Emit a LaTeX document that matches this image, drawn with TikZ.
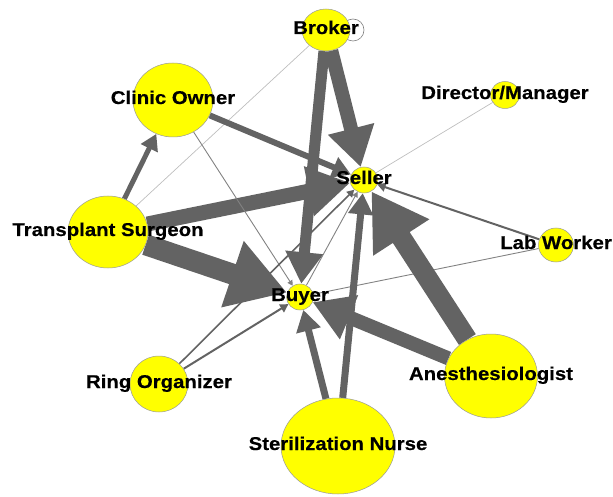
\documentclass[tikz,border=0pt]{standalone}
\usepackage{fontspec}
\setmainfont{Liberation Sans}
\newfontfamily\tagfont{Liberation Sans}[FakeStretch=1.1, BoldFeatures={FakeBold=0.4}]
\usetikzlibrary{shapes.geometric, arrows.meta}

\definecolor{tiegray}{RGB}{99,99,99}
\definecolor{thingray}{RGB}{130,130,130}
\definecolor{faintgray}{RGB}{190,190,190}
\definecolor{actoryellow}{RGB}{255,255,0}

\pgfdeclarelayer{edges}
\pgfsetlayers{edges,main}

\tikzset{
	actor/.style={ellipse, draw=black!40, line width=0.5pt, fill=actoryellow, inner sep=0pt},
	tag/.style={font=\tagfont\bfseries\fontsize{18.5}{18.5}\selectfont, inner sep=0pt, anchor=base},
	tie/.style={draw=tiegray, line width=#1pt, -{Triangle[length=3pt 2.6, width=3pt 3]}},
	faint/.style={draw=faintgray, line width=0.7pt},
	plainline/.style={draw=thingray, line width=0.9pt}
}

\begin{document}
\begin{tikzpicture}[x=1pt, y=-1pt]
	%\draw[help lines] (0,0) grid (613,497);
	\useasboundingbox (0,0) rectangle (613,497);

	% Knoten
	\node [actor, minimum width=48pt, minimum height=42pt] (broker) at (326,30) {};
	\node [actor, minimum width=28pt, minimum height=26pt] (seller) at (364,180) {};
	\node [actor, minimum width=27pt, minimum height=26pt] (buyer) at (300,297) {};
	\node [actor, minimum width=80pt, minimum height=74pt] (clinic) at (173,100) {};
	\node [actor, minimum width=80pt, minimum height=72pt] (surgeon) at (108,232) {};
	\node [actor, minimum width=29pt, minimum height=27pt] (director) at (505,95) {};
	\node [actor, minimum width=35pt, minimum height=34pt] (labworker) at (556,245) {};
	\node [actor, minimum width=58pt, minimum height=56pt] (organizer) at (159,384) {};
	\node [actor, minimum width=93pt, minimum height=84pt] (anesth) at (491,376) {};
	\node [actor, minimum width=114pt, minimum height=96pt] (nurse) at (338,446) {};

	\begin{pgfonlayer}{edges}
	\draw [draw=black!50, fill=white, line width=0.6pt] ([xshift=27pt]broker.center) circle [radius=11pt];	% Schleife
	\draw [tie=14] (broker) -- (seller);
	\draw [tie=11] (broker) -- (buyer);
	\draw [tie=15] (surgeon) -- (seller);
	\draw [tie=21] (surgeon) -- (buyer);
	\draw [tie=5] (surgeon) -- (clinic);
	\draw [faint] (surgeon) -- (broker);
	\draw [tie=6] (clinic) -- (seller);
	\draw [tie=0.9, draw=thingray] (clinic) -- (buyer);
	\draw [faint] (director) -- (seller);
	\draw [tie=2] (labworker) -- (seller);
	\draw [plainline] (buyer) -- (labworker);
	\draw [tie=2] (organizer) -- (buyer);
	\draw [tie=1.6] (organizer) -- (seller);
	\draw [tie=0.9, draw=thingray] (buyer) -- (seller);
	\draw [tie=7] (nurse) -- (buyer);
	\draw [tie=7] (nurse) -- (seller);
	\draw [tie=20] (anesth) -- (seller);
	\draw [tie=14] (anesth) -- (buyer);
	\end{pgfonlayer}

	% Beschriftung
	\node [tag] (brokerT) at ([yshift=-4pt]broker.center) {Broker};
	\node [tag] (sellerT) at ([yshift=-4pt]seller.center) {Seller};
	\node [tag] (buyerT) at ([yshift=-4pt]buyer.center) {Buyer};
	\node [tag] (clinicT) at ([yshift=-4pt]clinic.center) {Clinic Owner};
	\node [tag] (surgeonT) at ([yshift=-4pt]surgeon.center) {Transplant Surgeon};
	\node [tag] (directorT) at ([yshift=-4pt]director.center) {Director/Manager};
	\node [tag] (labworkerT) at ([yshift=-4pt]labworker.center) {Lab Worker};
	\node [tag] (organizerT) at ([yshift=-4pt]organizer.center) {Ring Organizer};
	\node [tag] (anesthT) at ([yshift=-4pt]anesth.center) {Anesthesiologist};
	\node [tag] (nurseT) at ([yshift=-4pt]nurse.center) {Sterilization Nurse};

\end{tikzpicture}
\end{document}
